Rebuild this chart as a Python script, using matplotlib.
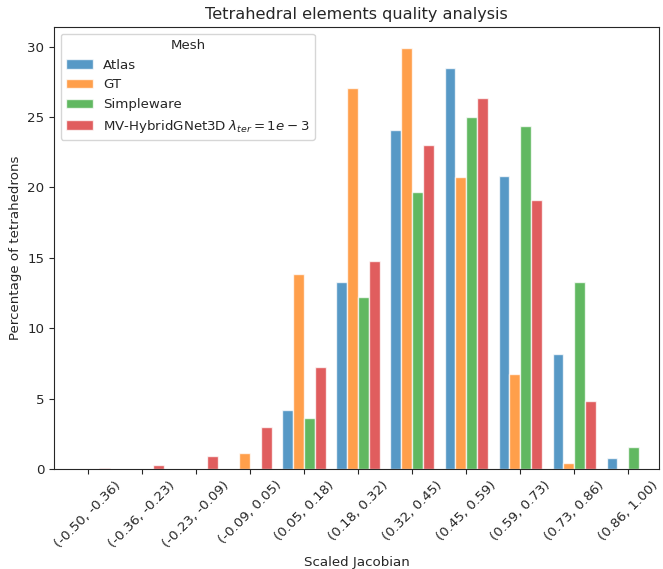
import numpy as np
import matplotlib
matplotlib.use("Agg")
import matplotlib.pyplot as plt
import seaborn as sns

bins = ['(-0.50, -0.36)', '(-0.36, -0.23)', '(-0.23, -0.09)', '(-0.09, 0.05)',
        '(0.05, 0.18)', '(0.18, 0.32)', '(0.32, 0.45)', '(0.45, 0.59)',
        '(0.59, 0.73)', '(0.73, 0.86)', '(0.86, 1.00)']

atlas = [0.0, 0.0, 0.0, 0.0, 4.2, 13.3, 24.05, 28.5, 20.85, 8.2, 0.8]
gt = [0.0, 0.0, 0.0, 1.15, 13.85, 27.05, 29.9, 20.75, 6.75, 0.4, 0.0]
simpleware = [0.0, 0.0, 0.0, 0.0, 3.65, 12.25, 19.7, 25.0, 24.35, 13.3, 1.6]
hybrid = [0.1, 0.3, 0.95, 3.0, 7.25, 14.75, 23.05, 26.35, 19.1, 4.85, 0.0]

series = ['Atlas', 'GT', 'Simpleware', r'MV-HybridGNet3D $\lambda_{ter} = 1e-3$']
values = [atlas, gt, simpleware, hybrid]

sns.set_style("ticks")
plt.rcParams['font.family'] = ['DejaVu Sans']

fig = plt.figure(figsize=(6.63, 5.69), dpi=100)
ax = fig.add_axes([0.0814, 0.1757, 0.9125, 0.7768])

colors = sns.color_palette("tab10")[:4]
x = np.arange(len(bins))
w = 0.8 / len(series)
for i, (name, vals) in enumerate(zip(series, values)):
    ax.bar(x - 0.4 + w * (i + 0.5), vals, width=w, color=colors[i], alpha=0.75,
           edgecolor='white', linewidth=1, label=name)

ax.set_xlim(-0.63, 10.57)
ax.set_ylim(0, 31.4)
ax.set_yticks([0, 5, 10, 15, 20, 25, 30])
ax.set_xticks(x)
ax.set_xticklabels(bins, rotation=45, fontsize=9.6)
ax.tick_params(axis='y', labelsize=9.6)
ax.set_xlabel('Scaled Jacobian', fontsize=9.6)
ax.set_ylabel('Percentage of tetrahedrons', fontsize=9.6)
ax.set_title('Tetrahedral elements quality analysis', fontsize=11.6)
ax.legend(title='Mesh', loc='upper left', fontsize=9.6, title_fontsize=9.6)

fig.savefig('out.png', dpi=100)
